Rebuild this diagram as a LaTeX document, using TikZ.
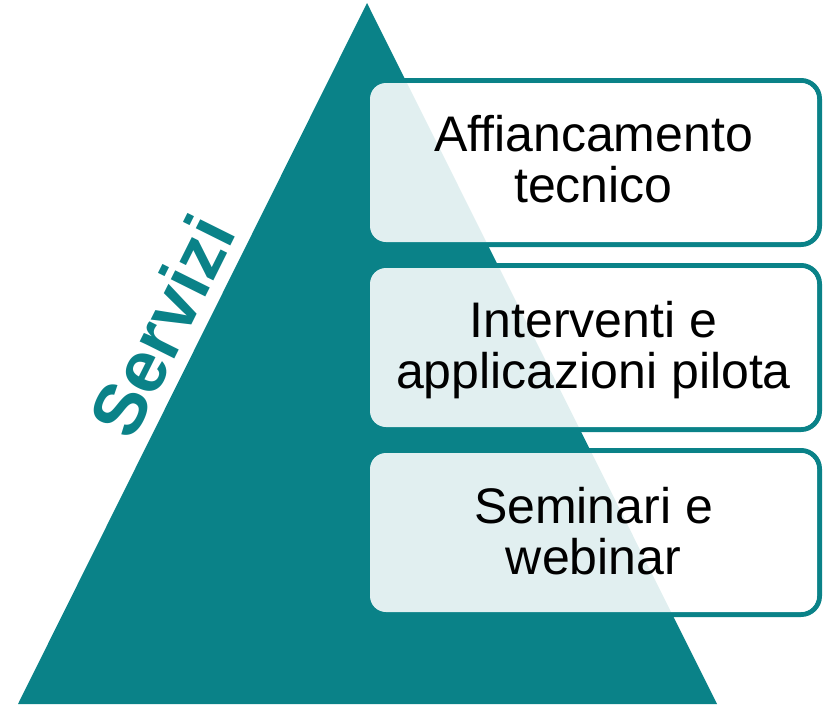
\documentclass[tikz,border=0pt]{standalone}
\usepackage{fontspec}
\setmainfont{Liberation Sans}
\definecolor{tealc}{RGB}{10,130,136}
\begin{document}
\begin{tikzpicture}[x=1pt,y=-1pt,
  frame/.style={draw=tealc, line width=5pt, rounded corners=18.5pt, minimum width=452pt, minimum height=164pt, inner sep=0pt, outer sep=0pt},
  panel/.style={fill=white, fill opacity=0.88, rounded corners=16pt, minimum width=447pt, minimum height=159pt, inner sep=0pt, outer sep=0pt},
  caption/.style={font=\fontsize{50}{51}\selectfont, align=center, anchor=base, inner sep=0pt, text=black},
  title/.style={font=\fontsize{73}{80}\selectfont\bfseries, text=tealc, rotate=63.5, inner sep=0pt}]
\useasboundingbox (0,0) rectangle (827,704);
\fill[tealc] (18,704) -- (367,3) -- (717,704) -- cycle;
\node[title] (servizi) at (162,326) {Servizi};
\foreach \n/\y in {1/162.5, 2/347.5, 3/532.5} {
  \node[frame] (f\n) at (593.5,\y) {};
  \node[panel] (p\n) at (593.5,\y) {};
}
\node[caption] (t1) at (593.5,202.5) {Affiancamento\\tecnico};
\node[caption] (t2) at (593.5,388) {Interventi e\\applicazioni pilota};
\node[caption] (t3) at (593.5,574) {Seminari e\\webinar};
\end{tikzpicture}
\end{document}
